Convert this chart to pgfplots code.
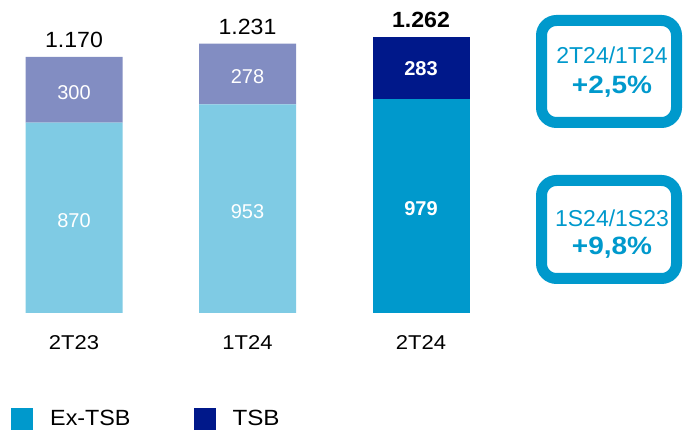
\documentclass[border=0pt]{standalone}
\usepackage{pgfplots}
\pgfplotsset{compat=1.18}
\usepackage{fontspec}
\setmainfont{Liberation Sans}
\definecolor{lightex}{HTML}{7FCBE4}
\definecolor{lighttsb}{HTML}{828DC2}
\definecolor{exblue}{HTML}{0099CC}
\definecolor{tsbblue}{HTML}{00188A}
\pgfplotsset{sqlegend/.style={legend image code/.code={\fill[##1] (0pt,-11pt) rectangle (22pt,11pt);}}}
\newcommand{\wide}[2]{\scalebox{#1}[1]{#2}}

\begin{document}
\begin{tikzpicture}[x=1pt,y=1pt]
\useasboundingbox (0,0) rectangle (687,430);
\begin{axis}[
  at={(0,0)}, anchor=south west,
  scale only axis, width=687pt, height=430pt,
  hide axis, clip=false,
  xmin=-0.4265, xmax=3.533,
  ymin=-534.7, ymax=1430.4,
  ybar stacked, bar width=97pt,
  legend columns=2,
  legend style={
    at={(axis description cs:0.016,0.0256)}, anchor=west,
    draw=none, fill=none, inner sep=0pt,
    font=\fontsize{22}{24}\selectfont,
    /tikz/every odd column/.append style={column sep=15pt},
    /tikz/every even column/.append style={column sep=61pt}
  }
]
% lower segments: Ex-TSB (light for 2T23/1T24, solid for 2T24)
\addplot[fill=lightex, draw=none, forget plot] coordinates {(0,870) (1,953) (2,0)};
\addplot[fill=exblue, draw=none, sqlegend] coordinates {(0,0) (1,0) (2,979)};
% upper segments: TSB
\addplot[fill=lighttsb, draw=none, forget plot] coordinates {(0,300) (1,278) (2,0)};
\addplot[fill=tsbblue, draw=none, sqlegend] coordinates {(0,0) (1,0) (2,283)};
\legend{\wide{1.06}{Ex-TSB}, \wide{1.1}{TSB}}

% anchors for the segment values (drawn after the axis, above the bars)
\coordinate (a0) at (axis cs:0,435);
\coordinate (b0) at (axis cs:0,1020);
\coordinate (a1) at (axis cs:1,476.5);
\coordinate (b1) at (axis cs:1,1092);
\coordinate (a2) at (axis cs:2,489.5);
\coordinate (b2) at (axis cs:2,1120.5);

% totals
\node[font=\fontsize{22}{26}\selectfont, yshift=17pt] at (axis cs:0,1170) {\wide{1.05}{1.170}};
\node[font=\fontsize{22}{26}\selectfont, yshift=17pt] at (axis cs:1,1231) {\wide{1.05}{1.231}};
\node[font=\bfseries\fontsize{22}{26}\selectfont, yshift=17pt] at (axis cs:2,1262) {\wide{1.05}{1.262}};

% categories
\node[font=\fontsize{20}{22}\selectfont] at (axis cs:0,-137) {\wide{1.1}{2T23}};
\node[font=\fontsize{20}{22}\selectfont] at (axis cs:1,-137) {\wide{1.1}{1T24}};
\node[font=\fontsize{20}{22}\selectfont] at (axis cs:2,-137) {\wide{1.1}{2T24}};
\end{axis}

\tikzset{val/.style={text=white, anchor=base, yshift=-9.5pt, font=\fontsize{20}{24}\selectfont}}
\node[val] at (a0) {870};
\node[val] at (b0) {300};
\node[val] at (a1) {953};
\node[val] at (b1) {278};
\node[val, font=\bfseries\fontsize{20}{24}\selectfont] at (a2) {979};
\node[val, font=\bfseries\fontsize{20}{24}\selectfont, yshift=2pt] at (b2) {283};

% growth boxes
\draw[exblue, line width=11pt, rounded corners=15pt] (541.5,409.5) rectangle (676.5,307.5);
\node[text=exblue, font=\fontsize{23}{26}\selectfont] at (612,375) {2T24/1T24};
\node[text=exblue, font=\bfseries\fontsize{25}{30}\selectfont] at (612,343) {\wide{1.12}{+2,5\%}};

\draw[exblue, line width=11pt, rounded corners=15pt] (541.5,249.5) rectangle (676.5,151.5);
\node[text=exblue, font=\fontsize{23}{26}\selectfont] at (612,212) {1S24/1S23};
\node[text=exblue, font=\bfseries\fontsize{25}{30}\selectfont] at (612,182) {\wide{1.12}{+9,8\%}};
\end{tikzpicture}
\end{document}
